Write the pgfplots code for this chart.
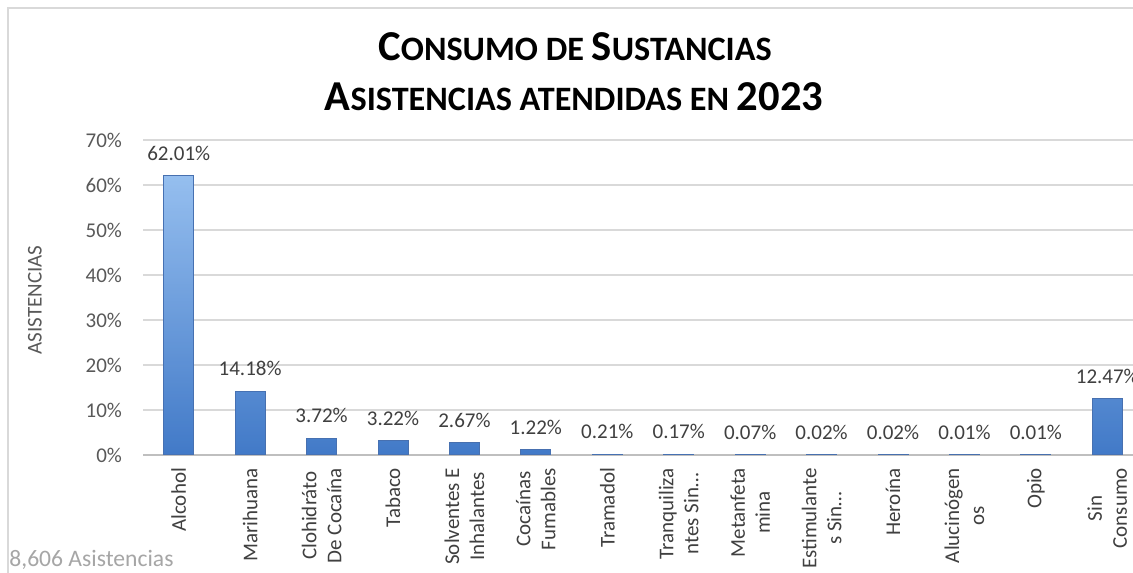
\documentclass[border=0pt]{standalone}
\usepackage{fontspec}
\setmainfont{Carlito}
\usepackage{pgfplots}
\pgfplotsset{compat=1.18}
\definecolor{barTop}{RGB}{168,206,248}
\definecolor{barBot}{RGB}{66,122,200}
\definecolor{barEdge}{RGB}{72,112,175}
\definecolor{gridc}{RGB}{217,217,217}
\definecolor{axisc}{RGB}{191,191,191}
\definecolor{tickc}{RGB}{89,89,89}
\definecolor{labc}{RGB}{64,64,64}
\definecolor{notec}{RGB}{166,166,166}
\newcommand{\SC}[1]{{\fontsize{17.1pt}{20pt}\selectfont #1}}
\begin{document}
\begin{tikzpicture}
\clip (0,0) rectangle (566.5pt,286pt);
\fill[white] (0,0) rectangle (566.5pt,286pt);
\draw[gridc, line width=1pt] (4pt,-10pt) rectangle (580pt,282pt);
\node[anchor=base, font=\fontsize{21.3pt}{25pt}\selectfont\bfseries] at (287.5pt,255.5pt) {C\SC{ONSUMO DE }S\SC{USTANCIAS}};
\node[anchor=base, font=\fontsize{21.3pt}{25pt}\selectfont\bfseries] at (287pt,230.5pt) {A\SC{SISTENCIAS ATENDIDAS EN }2023};
\node[rotate=90, text=tickc, font=\fontsize{10.5pt}{12pt}\selectfont] at (17.5pt,136pt) {ASISTENCIAS};
\node[anchor=base west, text=notec, font=\fontsize{11.8pt}{14pt}\selectfont, inner sep=0pt] at (4.5pt,2.5pt) {8,606 Asistencias};
\begin{axis}[
  at={(71.5pt,58.5pt)}, anchor=south west,
  scale only axis, width=500pt, height=157.5pt,
  xmin=-0.5, xmax=13.5, ymin=0, ymax=70,
  ytick={0,10,...,70},
  yticklabel={\pgfmathprintnumber{\tick}\%},
  xtick={0,...,13},
  xticklabels={Alcohol, Marihuana, {Clohidráto\\De Cocaína}, Tabaco, {Solventes E\\Inhalantes}, {Cocaínas\\Fumables}, Tramadol, {Tranquiliza\\ntes Sin…}, {Metanfeta\\mina}, {Estimulante\\s Sin…}, Heroína, {Alucinógen\\os}, Opio, {Sin\\Consumo}},
  x tick label style={yshift=-3pt, rotate=90, anchor=east, align=center, text=labc, font=\fontsize{10.5pt}{12.5pt}\selectfont},
  y tick label style={text=tickc, font=\fontsize{10.5pt}{12pt}\selectfont, xshift=-7pt},
  /pgf/number format/assume math mode=true,
  major tick length=0pt,
  axis line style={draw=none},
  ymajorgrids, grid style={gridc, line width=0.8pt},
  extra y ticks={0}, extra y tick labels={},
  extra y tick style={grid style={axisc, line width=0.8pt}},
  bar width=15pt,
  nodes near coords={\pgfmathprintnumber[fixed,fixed zerofill,precision=2]{\pgfplotspointmeta}\%},
  every node near coord/.append style={text=labc, font=\fontsize{10.5pt}{12pt}\selectfont, yshift=4pt},
  clip=false,
]
\addplot[ybar, bar shift=0pt, draw=barEdge, line width=0.5pt, top color=barTop, bottom color=barBot] coordinates {
(0,62.01) (1,14.18) (2,3.72) (3,3.22) (4,2.67) (5,1.22) (6,0.21) (7,0.17) (8,0.07) (9,0.02) (10,0.02) (11,0.01) (12,0.01) (13,12.47)};
\addplot[ybar, bar shift=0pt, draw=none, left color=barBot, middle color=white, right color=barBot, fill opacity=0.18, nodes near coords={}] coordinates {
(0,62.01) (1,14.18) (2,3.72) (3,3.22) (4,2.67) (5,1.22) (6,0.21) (7,0.17) (8,0.07) (9,0.02) (10,0.02) (11,0.01) (12,0.01) (13,12.47)};
\end{axis}
\end{tikzpicture}
\end{document}
